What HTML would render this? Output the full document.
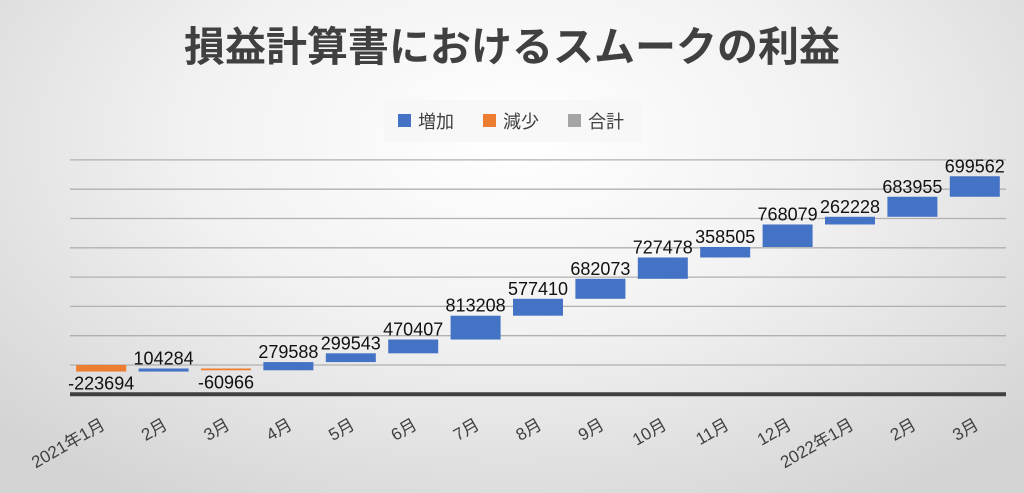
<!DOCTYPE html>
<html><head><meta charset="utf-8"><style>
html,body{margin:0;padding:0;}
body{width:1024px;height:493px;overflow:hidden;background:radial-gradient(ellipse 700px 420px at 512px 140px,#ffffff 0%,#f2f2f2 45%,#d4d4d4 100%);font-family:"Liberation Sans","Noto Sans CJK JP",sans-serif;}
svg{display:block;}
svg text{font-family:"Liberation Sans","Noto Sans CJK JP",sans-serif;}
</style></head><body>
<svg width="1024" height="493">
<text x="512" y="61" text-anchor="middle" font-size="41" font-weight="bold" fill="#404040">損益計算書におけるスムークの利益</text>
<g>
<rect x="384" y="100" width="258" height="42" fill="#f6f6f6" opacity="0.8"/>
<rect x="398" y="114" width="13" height="13" fill="#4472c4"/>
<text x="418" y="128" font-size="18" fill="#404040">増加</text>
<rect x="483" y="114" width="13" height="13" fill="#ed7d31"/>
<text x="503" y="128" font-size="18" fill="#404040">減少</text>
<rect x="568" y="114" width="13" height="13" fill="#a5a5a5"/>
<text x="588" y="128" font-size="18" fill="#404040">合計</text>
</g>
<g id="grid"></g>
<g id="bars"></g>
<g id="labels"></g>
<g id="xlabels"></g>
</svg>
<script>
const categories=["2021年1月","2月","3月","4月","5月","6月","7月","8月","9月","10月","11月","12月","2022年1月","2月","3月"];
const values=[-223694,104284,-60966,279588,299543,470407,813208,577410,682073,727478,358505,768079,262228,683955,699562];
const gridTicks=[-1000000,0,1000000,2000000,3000000,4000000,5000000,6000000,7000000];
const NS="http://www.w3.org/2000/svg";
const x0=70,x1=1006,zeroY=365,pxPer=29.3/1000000;
const bw=(x1-x0)/categories.length;
function y(v){return zeroY-v*pxPer;}
function xc(i){return x0+bw*(i+0.5);}
function mk(tag,attrs,parent){const e=document.createElementNS(NS,tag);for(const k in attrs)e.setAttribute(k,attrs[k]);parent.appendChild(e);return e;}
const grid=document.getElementById('grid'),bars=document.getElementById('bars'),labels=document.getElementById('labels'),xl=document.getElementById('xlabels');
gridTicks.forEach(t=>{
 const l=mk('line',{x1:x0,x2:x1,y1:y(t),y2:y(t),stroke:t===-1000000?'#404040':'#b0b0b0','stroke-width':t===-1000000?4:1.3},grid);
 
 
});
let cum=0;
values.forEach((v,i)=>{
 const a=cum,b=cum+v;cum=b;
 const top=y(Math.max(a,b)),bot=y(Math.min(a,b));
 const r=mk('rect',{x:xc(i)-25,y:top,width:50,height:Math.max(bot-top,1.5),fill:v>=0?'#4472c4':'#ed7d31'},bars);
 
 
 const t=mk('text',{x:xc(i),y:v>=0?top-4:bot+18,'text-anchor':'middle','font-size':18,fill:'#111'},labels);
 t.textContent=String(v);
 
 
 const lx=xc(i)+5,ly=428;
 const c=mk('text',{x:lx,y:ly,'text-anchor':'end','font-size':17,fill:'#404040',transform:`rotate(-30 ${lx} ${ly})`},xl);
 c.textContent=categories[i];
 
 
});
</script>
</body></html>
